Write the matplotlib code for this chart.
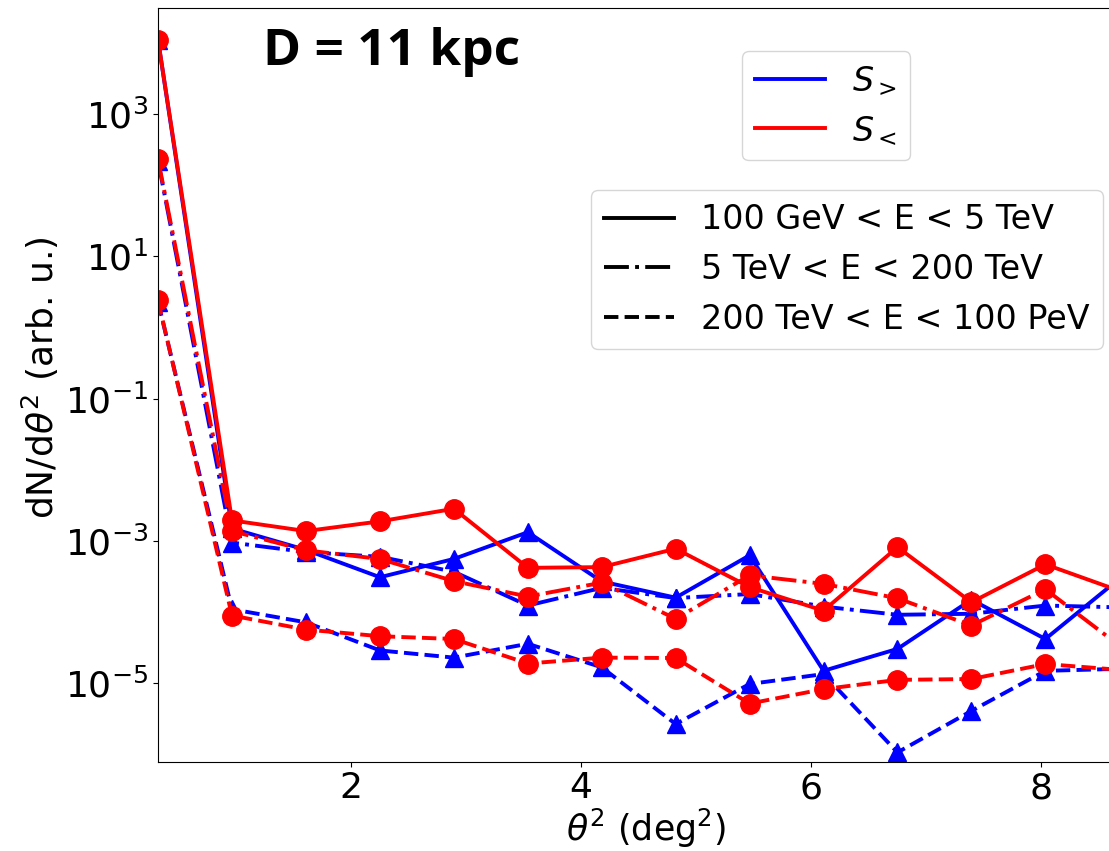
import matplotlib
matplotlib.use('Agg')
from matplotlib import pyplot as plt
from matplotlib.lines import Line2D
import matplotlib.ticker as ticker

# theta^2 bin centres (deg^2)
theta2 = [0.322, 0.965, 1.609, 2.252, 2.895, 3.538, 4.181, 4.824, 5.467,
          6.11, 6.753, 7.396, 8.039, 8.682]

# S_> (blue)
s_gt_low = [1.1e4, 1.5e-3, 7.5e-4, 3.1e-4, 5.6e-4, 1.33e-3, 2.7e-4, 1.6e-4,
            6.3e-4, 1.5e-5, 3.05e-5, 1.5e-4, 4.2e-5, 2.95e-4]
s_gt_mid = [2.2e2, 9.5e-4, 7.0e-4, 6.0e-4, 3.7e-4, 1.24e-4, 2.2e-4, 1.58e-4,
            1.8e-4, 1.2e-4, 9.2e-5, 9.5e-5, 1.24e-4, 1.17e-4]
s_gt_high = [2.3, 1.1e-4, 7.2e-5, 2.9e-5, 2.3e-5, 3.6e-5, 1.68e-5, 2.68e-6,
             9.8e-6, 1.35e-5, 1.07e-6, 4.1e-6, 1.5e-5, 1.6e-5]

# S_< (red)
s_lt_low = [1.1e4, 1.95e-3, 1.38e-3, 1.89e-3, 2.84e-3, 4.2e-4, 4.3e-4, 7.8e-4,
            2.25e-4, 1.05e-4, 8.2e-4, 1.38e-4, 4.7e-4, 2.0e-4]
s_lt_mid = [2.3e2, 1.38e-3, 7.4e-4, 5.6e-4, 2.73e-4, 1.66e-4, 2.6e-4, 8.05e-5,
            3.3e-4, 2.5e-4, 1.57e-4, 6.5e-5, 2.1e-4, 3.4e-5]
s_lt_high = [2.4, 8.97e-5, 5.7e-5, 4.6e-5, 4.2e-5, 1.9e-5, 2.3e-5, 2.27e-5,
             5.2e-6, 8.3e-6, 1.12e-5, 1.15e-5, 1.87e-5, 1.55e-5]

energy_labels = ['100 GeV < E < 5 TeV', '5 TeV < E < 200 TeV',
                 '200 TeV < E < 100 PeV']
styles = ['-', '-.', '--']

fig = plt.figure(figsize=(11.09, 8.51), dpi=100)
ax = fig.add_axes([0.1425, 0.105, 0.879, 0.8856])

for y, ls in zip([s_gt_low, s_gt_mid, s_gt_high], styles):
    ax.plot(theta2, y, color='blue', linestyle=ls, linewidth=2.8,
            marker='^', markersize=13)
for y, ls in zip([s_lt_low, s_lt_mid, s_lt_high], styles):
    ax.plot(theta2, y, color='red', linestyle=ls, linewidth=2.8,
            marker='o', markersize=14)

ax.set_yscale('log')
ax.set_xlim(0.322, 8.8)
ax.set_ylim(10**-6.1, 10**4.49)
ax.yaxis.set_major_locator(ticker.FixedLocator([1e-5, 1e-3, 1e-1, 1e1, 1e3]))
ax.yaxis.set_minor_locator(ticker.NullLocator())
ax.xaxis.set_major_locator(ticker.MultipleLocator(2))
ax.tick_params(labelsize=26)
ax.set_xlabel(r'$\theta^2$ (deg$^2$)', fontsize=25, labelpad=1)
ax.set_ylabel(r'dN/d$\theta^2$ (arb. u.)', fontsize=26)
ax.yaxis.set_label_coords(-0.1, 0.51)

fig.text(263 / 1109, 1 - 65 / 851, 'D = 11 kpc', fontsize=37,
         fontweight='bold', family='Open Sans', va='baseline')

color_handles = [Line2D([], [], color='blue', linewidth=2.8),
                 Line2D([], [], color='red', linewidth=2.8)]
leg1 = ax.legend(color_handles, [r'$S_>$', r'$S_<$'], fontsize=24,
                 loc='upper left', bbox_to_anchor=(742 / 1109, 1 - 51 / 851),
                 bbox_transform=fig.transFigure, handlelength=2.1,
                 borderaxespad=0)
ax.add_artist(leg1)

style_handles = [Line2D([], [], color='black', linestyle=ls, linewidth=2.8)
                 for ls in styles]
ax.legend(style_handles, energy_labels, fontsize=24, loc='upper left',
          bbox_to_anchor=(591 / 1109, 1 - 190 / 851),
          bbox_transform=fig.transFigure, handlelength=2.1, borderaxespad=0)

fig.savefig('out.png', dpi=100)
